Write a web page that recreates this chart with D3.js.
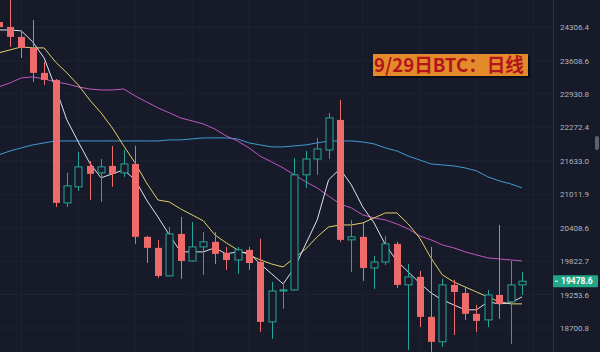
<!DOCTYPE html>
<html>
<head>
<meta charset="utf-8">
<title>BTC 日线</title>
<style>
  html, body { margin: 0; padding: 0; background: #161a29; }
  svg { display: block; }
  .axis text { font-family: Roboto, "Noto Sans", sans-serif; font-size: 8px; fill: #b2b5be; }
</style>
<script src="https://d3js.org/d3.v7.min.js"></script>
</head>
<body>
<svg id="chart"></svg>
<script>
// candles, index 0 is cut by the left edge
const opens  = [24411,24306,24098,23868,23354,23212,20853,21147,21536,21407,21536,21407,21574,20246,20053,19569,20298,19825,20070,20158,19965,19843,20018,19807,18800,19314,19331,21370,21666,21838,22417,20193,20246,19705,19807,20123,19416,19552,18883,18477,19416,19280,18933,18833,19247,19131,19416];
const highs  = [24470,24900,24202,24455,23577,23230,21407,21800,21629,21666,21915,21838,21915,20263,20193,20421,20601,20511,20330,20330,20070,20070,20070,20211,19467,19467,21685,21819,22068,22555,22811,20547,20493,19913,20263,20160,19773,19654,20070,19518,19501,19382,19081,19331,20457,19825,19637];
const lows   = [24260,23889,23659,23171,23110,20781,20781,21073,20907,20871,21147,21332,20123,19790,19535,19560,19518,19815,19586,19773,19671,19603,19671,18637,18525,19015,19320,21128,21370,21666,20158,19637,19484,19348,19756,19365,18349,18717,18317,18397,18589,18833,18637,18717,18850,18445,19247];
const closes = [24306,24098,23868,23354,23212,20853,21165,21518,21388,21518,21388,21574,20246,20053,19569,20298,19825,20070,20158,19948,19843,20018,19790,18800,19314,19331,21370,21666,21857,22456,20193,20246,19705,19807,20123,19416,19552,18883,18477,19416,19297,18933,18817,19247,19098,19416,19478.6];

// moving averages
const maWhite  = [24244,24244,24223,23993,23659,23050,22417,21991,21592,21314,21388,21462,21276,20907,20601,20281,19983,19983,19983,20053,19948,19983,19965,19773,19603,19433,19705,20123,20547,21276,21481,21184,20781,20493,20105,19826,19637,19450,19280,19164,19081,18999,18999,19131,19098,19115,19214];
const maYellow = [23764,23826,23889,23868,23868,23577,23354,23110,22811,22555,22259,21915,21592,21221,20907,20871,20745,20637,20529,20281,20141,20018,19930,19843,19773,19722,19878,20036,20246,20421,20457,20457,20493,20583,20672,20672,20475,20228,19876,19586,19467,19382,19297,19214,19131,19098,19098];
const maPink   = [23070,23151,23253,23273,23232,23171,23131,23070,23029,23009,23009,23029,22889,22771,22653,22555,22456,22397,22338,22240,22106,22010,21877,21719,21611,21499,21369,21239,21128,20979,20835,20763,20637,20583,20547,20475,20386,20263,20193,20105,20053,19983,19930,19878,19860,19843,19825];
const maBlue   = [21743,21819,21877,21934,21972,22010,22010,22010,22010,22010,22010,22010,22010,22010,22010,22030,22030,22049,22068,22068,22068,22049,21972,21934,21896,21896,21915,21934,21972,22010,22010,22010,21991,21953,21877,21819,21723,21648,21574,21555,21536,21499,21444,21332,21258,21202,21128];

const priceTicks = [24306.4,23608.6,22930.8,22272.4,21633.0,21011.9,20408.6,19822.7,19253.6,18700.8];
const gridIdx = [2,7,12,17,22,27,32,37,42,47];
const lastPrice = 19478.6;
const title = "9/29日BTC：日线";

const W = 600, H = 352, axisX = 553;
const svg = d3.select("#chart").attr("width", W).attr("height", H);
svg.append("rect").attr("width", W).attr("height", H).attr("fill", "#161a29");

const x = d3.scaleLinear().domain([1, 46]).range([10, 522]);
const y = d3.scaleLog().domain([18700.8, 24306.4]).range([328, 27]);

const candles = opens.map((o, i) => ({ i: i, o: o, h: highs[i], l: lows[i], c: closes[i] }));

const plot = svg.append("g");
plot.append("clipPath").attr("id", "clip").append("rect").attr("width", axisX).attr("height", H);
plot.attr("clip-path", "url(#clip)");

// grid
plot.selectAll(".hgrid").data(priceTicks).enter().append("line")
  .attr("x1", 0).attr("x2", axisX)
  .attr("y1", d => y(d)).attr("y2", d => y(d))
  .attr("stroke", "#1e2233").attr("stroke-width", 1);
plot.selectAll(".vgrid").data(gridIdx).enter().append("line")
  .attr("x1", d => x(d)).attr("x2", d => x(d))
  .attr("y1", 0).attr("y2", H)
  .attr("stroke", "#1e2233").attr("stroke-width", 1);

// moving averages
const line = d3.line().x((d, i) => x(i)).y(d => y(d));
[[maBlue, "#3f9bd0"], [maPink, "#c257bf"], [maYellow, "#e3cf6a"], [maWhite, "#dfe3f0"]].forEach(function (m) {
  plot.append("path").datum(m[0]).attr("d", line)
    .attr("fill", "none").attr("stroke", m[1]).attr("stroke-width", 1);
});

const red = "#ef6b6b", green = "#26a69a";
const bw = 7;
plot.selectAll(".wick").data(candles).enter().append("line")
  .attr("x1", d => Math.round(x(d.i)) + 0.5).attr("x2", d => Math.round(x(d.i)) + 0.5)
  .attr("y1", d => y(d.h)).attr("y2", d => y(d.l))
  .attr("stroke", d => d.c >= d.o ? green : red).attr("stroke-width", 1);
plot.selectAll(".body").data(candles).enter().append("rect")
  .attr("x", d => Math.round(x(d.i)) - 3)
  .attr("y", d => y(Math.max(d.o, d.c)))
  .attr("width", bw)
  .attr("height", d => Math.max(1, y(Math.min(d.o, d.c)) - y(Math.max(d.o, d.c))))
  .attr("fill", d => d.c >= d.o ? "#161a29" : red)
  .attr("stroke", d => d.c >= d.o ? green : "none")
  .attr("stroke-width", 1);

// right price axis
const axis = svg.append("g").attr("class", "axis")
  .attr("transform", "translate(" + axisX + ",0)")
  .call(d3.axisRight(y).tickValues(priceTicks).tickFormat(d3.format(".1f")).tickSize(0).tickPadding(7));
axis.select(".domain").remove();
svg.append("line").attr("x1", axisX + 0.5).attr("x2", axisX + 0.5).attr("y1", 0).attr("y2", H)
  .attr("stroke", "#2c3040");

// last price marker
const ly = y(lastPrice);
svg.append("rect").attr("x", axisX).attr("y", ly - 6).attr("width", 45).attr("height", 12)
  .attr("rx", 1).attr("fill", "#1fa786");
svg.append("line").attr("x1", axisX + 2).attr("x2", axisX + 5).attr("y1", ly).attr("y2", ly)
  .attr("stroke", "#ffffff").attr("stroke-width", 1);
svg.append("text").attr("x", axisX + 8).attr("y", ly).attr("dy", "0.35em")
  .attr("font-family", "Roboto, sans-serif").attr("font-size", "8.5px").attr("font-weight", "bold")
  .attr("fill", "#ffffff").text(d3.format(".1f")(lastPrice));

// scroll handle
svg.append("rect").attr("x", 595).attr("y", 136).attr("width", 4).attr("height", 14)
  .attr("rx", 2).attr("fill", "#5d6170");

// title box
svg.append("rect").attr("x", 375).attr("y", 56).attr("width", 155).attr("height", 22).attr("fill", "#0c0e16");
svg.append("rect").attr("x", 373).attr("y", 54).attr("width", 155).attr("height", 22).attr("fill", "#e38b2b");
svg.append("text").attr("x", 374).attr("y", 65).attr("dy", "0.36em")
  .attr("font-family", "'Noto Sans CJK SC', sans-serif").attr("font-size", "19px").attr("font-weight", "bold")
  .attr("textLength", 150).attr("lengthAdjust", "spacingAndGlyphs")
  .attr("fill", "#b3141c").text(title);
</script>
</body>
</html>
